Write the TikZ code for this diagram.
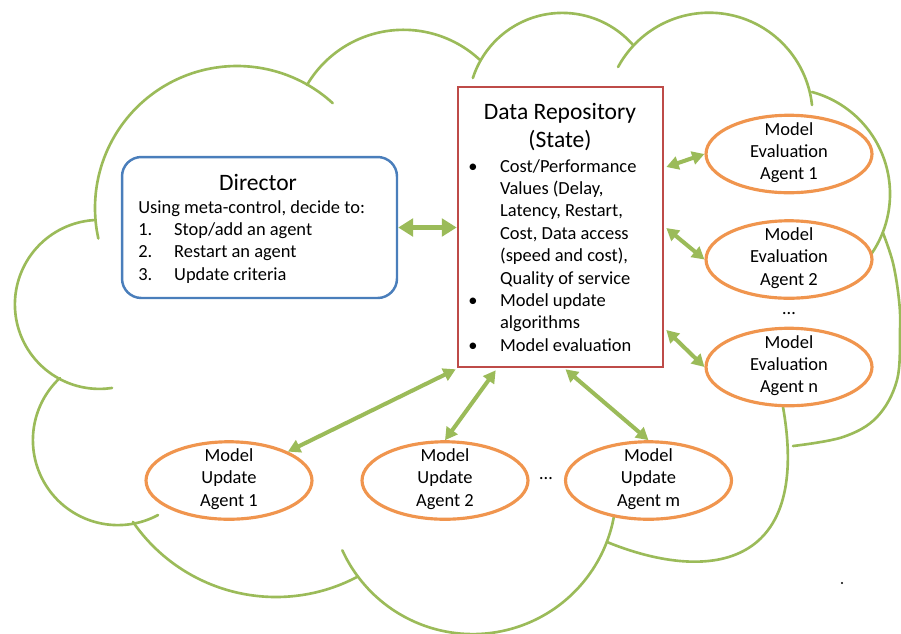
\documentclass[tikz,border=0pt]{standalone}
\usepackage{fontspec}
\setmainfont{Carlito}
\usetikzlibrary{arrows.meta,shapes.geometric,calc}

\definecolor{cloudgreen}{HTML}{9BBB59}
\definecolor{arrowgreen}{HTML}{9BBB59}
\definecolor{dirblue}{HTML}{4A7EBB}
\definecolor{repored}{HTML}{BE4B48}
\definecolor{agentorange}{HTML}{F0954E}

\newcommand{\bodysize}{\fontsize{10.5}{12.75}\selectfont}
\newcommand{\headsize}{\fontsize{13.4}{16.2}\selectfont}
% one circular lobe of the cloud: centre x, centre y, radius, from angle, to angle
\newcommand{\lobe}[5]{\draw[cloudline] plot[smooth, samples=40, domain=#4:#5, variable=\t] ({#1+#3*cos(\t)},{#2+#3*sin(\t)});}

\begin{document}
\begin{tikzpicture}[x=0.02cm,y=-0.02cm,
  cloudline/.style={draw=cloudgreen, line width=1.5pt, line cap=round},
  dirbox/.style={draw=dirblue, line width=1.4pt, fill=white, rounded corners=11pt,
    minimum width=5.5cm, minimum height=2.82cm, inner sep=0pt},
  repobox/.style={draw=repored, line width=1.5pt, fill=white,
    minimum width=4.1cm, minimum height=5.6cm, inner sep=0pt},
  agent/.style={draw=agentorange, line width=1.8pt, fill=white, ellipse,
    minimum width=3.32cm, minimum height=1.55cm, inner sep=0pt},
  label/.style={inner sep=0pt, font=\bodysize},
  link/.style={draw=arrowgreen, line width=2.3pt,
    arrows={Triangle[length=7pt,width=7.5pt]-Triangle[length=7pt,width=7.5pt]}},
  biglink/.style={draw=arrowgreen, line width=3.4pt,
    arrows={Triangle[length=8.5pt,width=10pt]-Triangle[length=8.5pt,width=10pt]}},
]
\useasboundingbox (0,0) rectangle (901,633);

% cloud outline
\lobe{237}{208}{142}{167.6}{312.4}
\lobe{403.5}{141.8}{112}{210.5}{313.1}
\lobe{562.3}{106.9}{94}{197.9}{318.8}
\lobe{709.1}{116.2}{103.5}{208.4}{353.8}
\lobe{784.3}{194}{105.7}{285.2}{393.9}
\lobe{99.4}{304.4}{84.5}{81.4}{267}
\lobe{117.9}{440.1}{85}{61.8}{227}
\lobe{276}{423.2}{173.8}{62.2}{145.4}
\lobe{472.8}{490.6}{143.5}{10.7}{155.4}
\draw[cloudline] plot[smooth, tension=0.6] coordinates {(883,233) (893,263) (899,300) (900,330) (897,380) (877,417) (843,437) (793,446)};
\draw[cloudline] (607,542) .. controls (705,582) and (812,572) .. (783,407);

% director
\node[dirbox] (dir) at (259.5,227.5) {};
\node[inner sep=0pt, font=\headsize, anchor=base] (dirtitle) at (258,190) {Director};
\node[label, anchor=base west] (dirbody) at (138,213) {%
  \begin{tabular}[t]{@{}p{20.4pt}@{}l@{}}
  \multicolumn{2}{@{}l@{}}{Using meta-control, decide to:}\\
  1. & Stop/add an agent\\
  2. & Restart an agent\\
  3. & Update criteria
  \end{tabular}};

% data repository
\node[repobox] (repo) at (560.5,227) {};
\node[inner sep=0pt, font=\headsize, anchor=base] (repotitle) at (560,119) {%
  \begin{tabular}[t]{@{}c@{}}Data Repository\\(State)\end{tabular}};
\node[label, anchor=base west] (repobody) at (468,172) {%
  \begin{tabular}[t]{@{}p{18.1pt}@{}l@{}}
  \textbullet & Cost/Performance\\
   & Values (Delay,\\
   & Latency, Restart,\\
   & Cost, Data access\\
   & (speed and cost),\\
   & Quality of service\\
  \textbullet & Model update\\
   & algorithms\\
  \textbullet & Model evaluation
  \end{tabular}};

% evaluation agents
\node[agent] (ev1) at (789,154) {};
\node[agent] (ev2) at (789,259.5) {};
\node[agent] (evn) at (789,367) {};
\node[label, anchor=base] (ev1t) at ($(ev1)+(0,-19)$) {\begin{tabular}[t]{@{}c@{}}Model\\Evaluation\\Agent 1\end{tabular}};
\node[label, anchor=base] (ev2t) at ($(ev2)+(0,-19)$) {\begin{tabular}[t]{@{}c@{}}Model\\Evaluation\\Agent 2\end{tabular}};
\node[label, anchor=base] (evnt) at ($(evn)+(0,-19)$) {\begin{tabular}[t]{@{}c@{}}Model\\Evaluation\\Agent n\end{tabular}};
\node[label] (evdots) at (789,314) {…};

% update agents
\node[agent] (up1) at (229,480.5) {};
\node[agent] (up2) at (445,480.5) {};
\node[agent] (upm) at (648.5,480.5) {};
\node[label, anchor=base] (up1t) at ($(up1)+(0,-19)$) {\begin{tabular}[t]{@{}c@{}}Model\\Update\\Agent 1\end{tabular}};
\node[label, anchor=base] (up2t) at ($(up2)+(0,-19)$) {\begin{tabular}[t]{@{}c@{}}Model\\Update\\Agent 2\end{tabular}};
\node[label, anchor=base] (upmt) at ($(upm)+(0,-19)$) {\begin{tabular}[t]{@{}c@{}}Model\\Update\\Agent m\end{tabular}};
\node[label] (updots) at (546,479) {…};

% connectors
\draw[biglink] (dir.east) -- (dir.east -| repo.west);
\draw[link] ($(repo.east)+(2,-60)$) -- (ev1.west);
\draw[link] ($(repo.east)+(2,1)$) -- (ev2.west);
\draw[link] ($(repo.east)+(2,103)$) -- (evn.west);
\draw[link] ($(repo.south west)+(-1,1)$) -- (up1);
\draw[link] ($(repo.south west)+(39,2)$) -- (up2.north);
\draw[link] ($(repo.south)+(5,1)$) -- (upm.north);

% small dot near the lower right corner
\fill (842,583) circle (1.1);
\end{tikzpicture}
\end{document}
